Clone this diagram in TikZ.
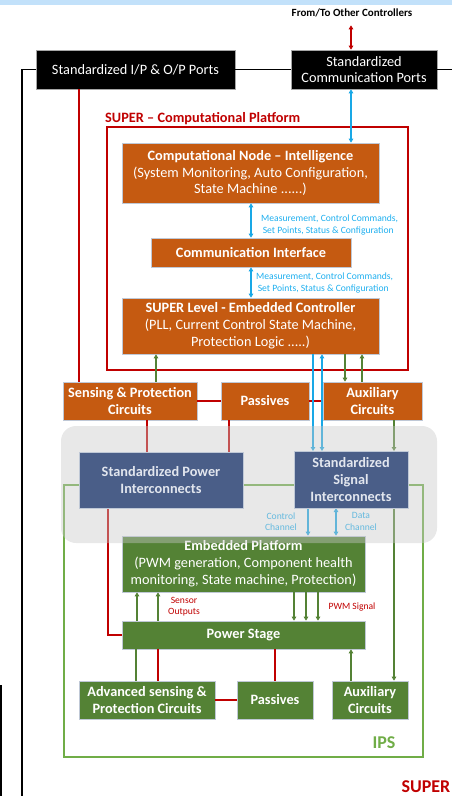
\documentclass[tikz,border=0pt]{standalone}
\usepackage{fontspec}
\setmainfont{Carlito}
\usetikzlibrary{arrows.meta,calc}

\definecolor{orangebox}{HTML}{C55A11}
\definecolor{greenbox}{HTML}{548235}
\definecolor{bluebox}{HTML}{4A5E88}
\definecolor{bluetext}{HTML}{E2E6EE}
\definecolor{boxedge}{HTML}{BFC8D6}
\definecolor{linered}{HTML}{C00000}
\definecolor{linegreen}{HTML}{548235}
\definecolor{ipsgreen}{HTML}{70AD47}
\definecolor{linecyan}{HTML}{19A8E6}
\definecolor{labelcyan}{HTML}{1EAFEF}
\definecolor{topband}{HTML}{C2E1FA}
\definecolor{haze}{HTML}{C8C8C8}

\begin{document}
\begin{tikzpicture}[x=1pt,y=-1pt,
  >={Triangle[length=4pt,width=4.5pt]},
  boxbase/.style={draw=boxedge,line width=0.6pt,text=white,align=center,
    inner sep=0pt,font=\fontsize{14.3}{16.8}\selectfont},
  obox/.style={boxbase,fill=orangebox},
  gbox/.style={boxbase,fill=greenbox},
  bbox/.style={boxbase,fill=bluebox,text=bluetext},
  kbox/.style={boxbase,fill=black,draw=gray!70},
  redln/.style={draw=linered,line width=1.4pt},
  grnln/.style={draw=linegreen,line width=1.3pt},
  cyln/.style={draw=linecyan,line width=1.4pt},
  frameln/.style={draw=black,line width=1.2pt},
  smalllbl/.style={font=\fontsize{9.6}{11.2}\selectfont,align=left,inner sep=0pt},
]
\useasboundingbox (0,0) rectangle (452,796);

% header band
\fill[topband] (0,0) rectangle (452,4.5);

% ---- port boxes
\node[font=\bfseries\fontsize{11}{13}\selectfont,inner sep=0pt] (fromto) at (352,13) {From/To Other Controllers};
\node[kbox,minimum width=199,minimum height=39] (ioports) at (135.5,69.5) {Standardized I/P \& O/P Ports};
\node[kbox,minimum width=146,minimum height=39] (commports) at (364,69.5) {Standardized\\Communication Ports};

% outer frame
\coordinate (frameTR) at (452,68);
\coordinate (frameBL) at (22,796);
\draw[frameln] (frameBL) |- (ioports.west);
\draw[frameln] (ioports.east) -- (ioports.east -| commports.west);
\draw[frameln] (commports.east) -- (commports.east -| frameTR);
\coordinate (edgeA) at (1,685);
\coordinate (edgeB) at (1,796);
\draw[frameln] (edgeA) -- (edgeB);

\draw[redln,<->] (fromto.south -| 351,0) ++(0,8) -- (commports.north -| 351,0);

% ---- computational platform
\draw[linered,line width=1.4pt] (107,127) rectangle (408,370);
\node[anchor=west,text=linered,font=\bfseries\fontsize{14.3}{16}\selectfont,inner sep=0pt] (cptitle) at (105,119) {SUPER -- Computational Platform};

\node[obox,minimum width=257,minimum height=60] (compnode) at (250.5,173)
  {\textbf{Computational Node -- Intelligence}\\(System Monitoring, Auto Configuration,\\State Machine ......)};
\node[obox,minimum width=200,minimum height=29] (commif) at (251,252.5)
  {\textbf{Communication Interface}};
\node[obox,minimum width=257,minimum height=56] (superlvl) at (250.5,326)
  {\textbf{SUPER Level - Embedded Controller}\\(PLL, Current Control State Machine,\\Protection Logic .....)};

\draw[cyln,<->] (commports.south -| 351,0) -- (compnode.north -| 351,0);
\draw[cyln,<->] (compnode.south -| commif.north) -- (commif.north);
\draw[cyln,<->] (commif.south) -- (superlvl.north -| commif.south);
\node[smalllbl,anchor=west,text=labelcyan] (lbl1) at (261,225)
  {Measurement, Control Commands,\\\,Set Points, Status \& Configuration};
\node[smalllbl,anchor=west,text=labelcyan] (lbl2) at (256,283)
  {Measurement, Control Commands,\\\,Set Points, Status \& Configuration};

% ---- first circuit row
\node[obox,minimum width=134,minimum height=38] (sens) at (130,401) {\textbf{Sensing \& Protection}\\\textbf{Circuits}};
\node[obox,minimum width=88,minimum height=38] (passA) at (265,401) {\textbf{Passives}};
\node[obox,minimum width=99,minimum height=38] (auxA) at (372.5,401) {\textbf{Auxiliary}\\\textbf{Circuits}};

% ---- IPS frame
\draw[ipsgreen,line width=1.6pt] (64,485) rectangle (423,757);

% ---- embedded platform and power stage
\node[gbox,minimum width=243,minimum height=56] (embp) at (243.5,564)
  {\textbf{Embedded Platform}\\(PWM generation, Component health\\monitoring, State machine, Protection)};
\node[gbox,minimum width=243,minimum height=28] (pstage) at (243.5,635) {\textbf{Power Stage}};

\node[gbox,minimum width=136,minimum height=38] (advs) at (147,700) {\textbf{Advanced sensing \&}\\\textbf{Protection Circuits}};
\node[gbox,minimum width=76,minimum height=38] (passB) at (275,700) {\textbf{Passives}};
\node[gbox,minimum width=76,minimum height=38] (auxB) at (370,700) {\textbf{Auxiliary}\\\textbf{Circuits}};

% interconnect anchors (boxes drawn later, above the haze)
\coordinate (powicN) at (161,452);
\coordinate (powicS) at (161,508);
\coordinate (sigicN) at (351,451);
\coordinate (sigicS) at (351,508);

% connectors in the upper half
\draw[redln] (ioports.south -| 79,0) -- (sens.north -| 79,0);
\draw[redln] (sens.east) -- (passA.west);
\draw[redln] (passA.east) -- (auxA.west);
\draw[grnln,->] (sens.north -| 156,0) -- (superlvl.south -| 156,0);
\draw[grnln,->] (superlvl.south -| 345,0) -- (auxA.north -| 345,0);
\draw[grnln,->] (auxA.north -| 362,0) -- (superlvl.south -| 362,0);
\draw[cyln,->] (superlvl.south -| 313,0) -- (sigicN -| 313,0);
\draw[cyln,<->] (superlvl.south -| 322,0) -- (sigicN -| 322,0);
\draw[redln] (sens.south -| 147,0) -- (powicN -| 147,0);
\draw[redln] (passA.south -| 229,0) -- (powicN -| 229,0);
\draw[grnln,->] (auxA.south -| 394,0) -- (sigicN -| 394,0);

% connectors in the lower half
\draw[redln] (powicS -| 108,0) |- (pstage.west);
\draw[grnln,->] (sigicS -| 394,0) -- (auxB.north -| 394,0);
\draw[cyln,->] (sigicS -| 308,0) -- (embp.north -| 308,0);
\draw[cyln,<->] (sigicS -| 336,0) -- (embp.north -| 336,0);
\node[smalllbl,align=center,text=labelcyan] (ctrlch) at (281,521.5) {Control\\Channel};
\node[smalllbl,align=center,text=labelcyan] (datach) at (361,521.5) {Data\\Channel};

\draw[grnln,->] (pstage.north -| 137,0) -- (embp.south -| 137,0);
\draw[grnln,->] (pstage.north -| 158,0) -- (embp.south -| 158,0);
\node[smalllbl,align=center,text=linered] (sensout) at (184,607) {Sensor\\Outputs};
\draw[grnln,->] (embp.south -| 294,0) -- (pstage.north -| 294,0);
\draw[grnln,->] (embp.south -| 306,0) -- (pstage.north -| 306,0);
\draw[grnln,->] (embp.south -| 318,0) -- (pstage.north -| 318,0);
\node[smalllbl,align=center,text=linered] (pwmsig) at (352,607) {PWM Signal};

\draw[grnln] (pstage.south -| 136,0) -- (advs.north -| 136,0);
\draw[redln] (pstage.south -| 158,0) -- (advs.north -| 158,0);
\draw[redln] (pstage.south -| 275,0) -- (passB.north);
\draw[grnln,->] (auxB.north -| 351,0) -- (pstage.south -| 351,0);
\draw[redln] (advs.east) -- (passB.west);

% grey interconnect zone (translucent)
\fill[haze,fill opacity=0.42,rounded corners=15pt] (61,426) rectangle (437,543);

\node[bbox,minimum width=164,minimum height=56] (powic) at (161,480) {\textbf{Standardized Power}\\\textbf{Interconnects}};
\node[bbox,minimum width=114,minimum height=57] (sigic) at (351,479.5) {\textbf{Standardized}\\\textbf{Signal}\\\textbf{Interconnects}};

% labels
\node[text=ipsgreen,font=\bfseries\fontsize{18}{20}\selectfont,inner sep=0pt] (ipslbl) at (384,743) {IPS};
\node[anchor=east,text=linered,font=\bfseries\fontsize{18}{20}\selectfont,inner sep=0pt] (superlbl) at (450.5,787) {SUPER};
\end{tikzpicture}
\end{document}
